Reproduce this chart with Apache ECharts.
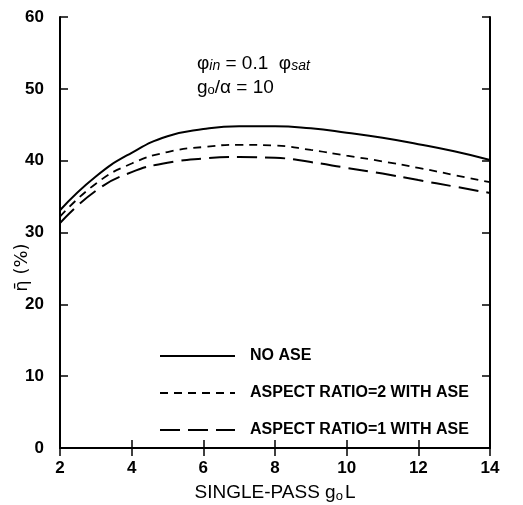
<!DOCTYPE html>
<html><head><meta charset="utf-8">
<script src="https://cdn.jsdelivr.net/npm/echarts@6/dist/echarts.min.js"></script>
<style>html,body{margin:0;padding:0;background:#fff}#c{width:523px;height:505px}</style>
</head><body><div id="c"></div>
<script>
var xValues = [2, 3, 4, 5, 6, 7, 8, 9, 10, 11, 12, 13, 14];
var noAse = [33.1, 37.8, 41.1, 43.4, 44.4, 44.8, 44.8, 44.5, 43.9, 43.2, 42.3, 41.3, 40.1];
var ar2Ase = [32.2, 36.8, 39.6, 41.2, 41.9, 42.2, 42.1, 41.5, 40.7, 39.9, 39.0, 38.0, 37.0];
var ar1Ase = [31.3, 35.8, 38.4, 39.7, 40.3, 40.5, 40.4, 39.8, 39.0, 38.2, 37.3, 36.4, 35.5];
var seriesNames = ['NO ASE', 'ASPECT RATIO=2 WITH ASE', 'ASPECT RATIO=1 WITH ASE'];

function pairs(ys){ return xValues.map(function(x,i){ return [x, ys[i]]; }); }
var FONT = 'Liberation Sans';
var chart = echarts.init(document.getElementById('c'), null, {renderer:'canvas'});
var axisCommon = {
  type:'value',
  axisLine:{show:true, lineStyle:{color:'#000', width:2}},
  axisTick:{show:true, inside:true, length:8, lineStyle:{color:'#000', width:1.5}},
  splitLine:{show:false}
};
chart.setOption({
  animation:false,
  backgroundColor:'#fff',
  grid:{left:60, right:33, top:17, bottom:57, outerBoundsMode:'none', containLabel:false},
  legend:{
    orient:'vertical', left:154, top:343, itemWidth:75, itemHeight:14, itemGap:21,
    data:seriesNames,
    itemStyle:{opacity:0},
    textStyle:{fontFamily:FONT, fontSize:16, fontWeight:'bold', color:'#000', padding:[0,0,0,10]}
  },
  xAxis:[Object.assign({}, axisCommon, {
    min:2, max:14, interval:2, position:'bottom',
    axisLabel:{color:'#000', fontFamily:FONT, fontSize:17, fontWeight:'bold', margin:12},
    name:'{t|SINGLE-PASS g}{s|o}{t|L}', nameLocation:'middle', nameGap:34,
    nameTextStyle:{rich:{t:{fontFamily:FONT, fontSize:19, color:'#000'}, s:{fontFamily:FONT, fontSize:13, color:'#000', verticalAlign:'bottom', padding:[8,2,0,0]}}}
  }), Object.assign({}, axisCommon, {
    min:2, max:14, interval:2, position:'top', axisLabel:{show:false}
  })],
  yAxis:[Object.assign({}, axisCommon, {
    min:0, max:60, interval:10, position:'left',
    axisLabel:{color:'#000', fontFamily:FONT, fontSize:17, fontWeight:'bold', margin:16},
    name:'η̄ (%)', nameLocation:'middle', nameGap:29, nameRotate:90, nameMoveOverlap:false,
    nameTextStyle:{fontFamily:'DejaVu Sans', fontSize:18, color:'#000', padding:[0,70,0,0]}
  }), Object.assign({}, axisCommon, {
    min:0, max:60, interval:10, position:'right', axisLabel:{show:false}
  })],
  graphic:[
    {type:'text', left:197, top:54, style:{
      text:'{t|φ}{s|in}{t| = 0.1  φ}{s|sat}',
      rich:{t:{fontFamily:FONT, fontSize:19, fill:'#000'}, s:{fontFamily:FONT, fontSize:14, fontStyle:'italic', fill:'#000', padding:[6,0,0,0]}}
    }},
    {type:'text', left:197, top:78, style:{
      text:'{t|g}{s|o}{t|/α = 10}',
      rich:{t:{fontFamily:FONT, fontSize:19, fill:'#000'}, s:{fontFamily:FONT, fontSize:13, fill:'#000', padding:[6,0,0,0]}}
    }}
  ],
  series:[
    {name:seriesNames[0], type:'line', data:pairs(noAse), smooth:true, symbol:'none', lineStyle:{color:'#000', width:2, type:'solid'}, itemStyle:{color:'#000'}},
    {name:seriesNames[1], type:'line', data:pairs(ar2Ase), smooth:true, symbol:'none', lineStyle:{color:'#000', width:1.8, type:[8,6]}, itemStyle:{color:'#000'}},
    {name:seriesNames[2], type:'line', data:pairs(ar1Ase), smooth:true, symbol:'none', lineStyle:{color:'#000', width:2, type:[20,8]}, itemStyle:{color:'#000'}}
  ]
});
</script></body></html>
